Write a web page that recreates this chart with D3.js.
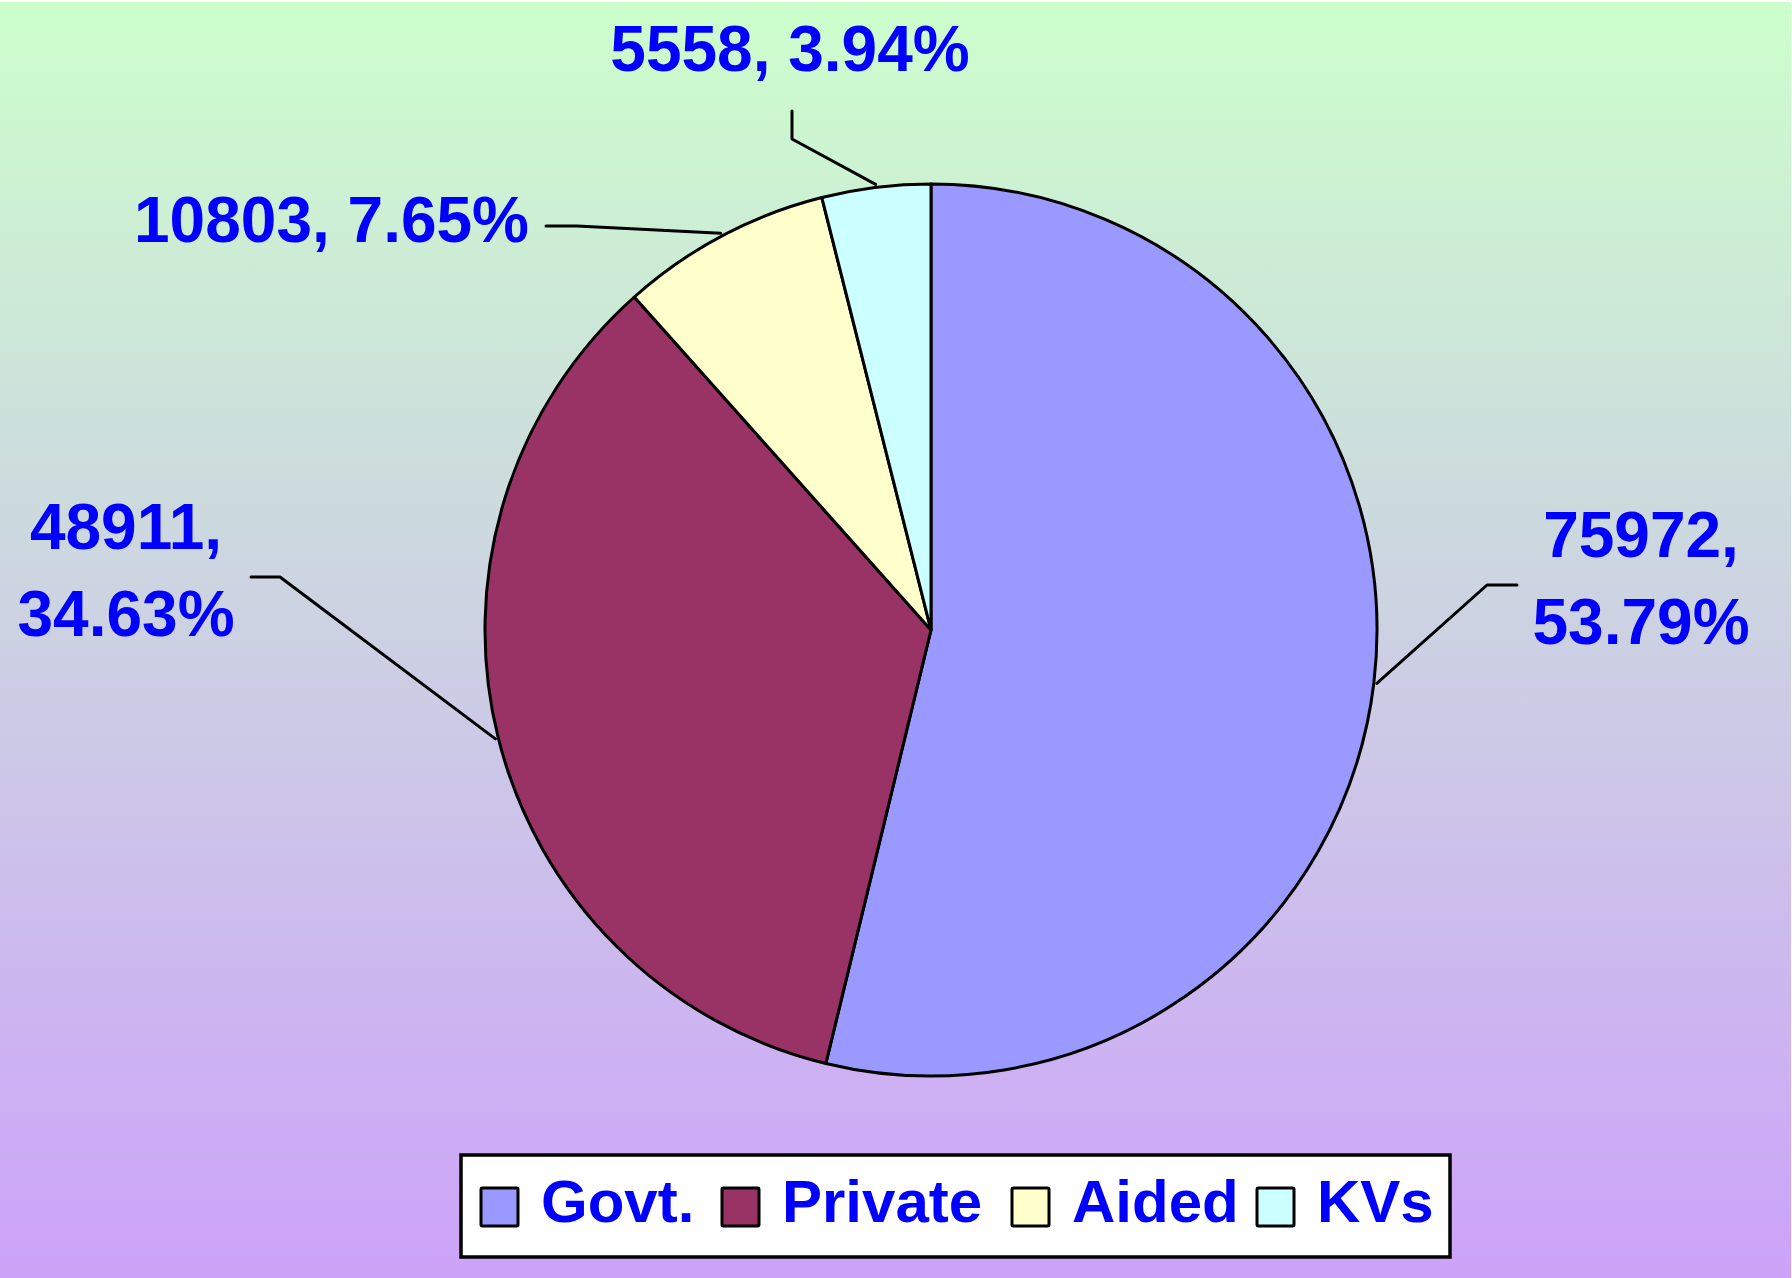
<!DOCTYPE html>
<html>
<head>
<meta charset="utf-8">
<script src="https://cdn.jsdelivr.net/npm/d3@7"></script>
<style>
  html, body { margin: 0; padding: 0; background: #ffffff; }
  svg { display: block; }
</style>
</head>
<body>
<script>
// ---- data ----
const categories = ["Govt.", "Private", "Aided", "KVs"];
const values = [75972, 48911, 10803, 5558];
const percents = ["53.79%", "34.63%", "7.65%", "3.94%"];
const colors = ["#9999FF", "#993366", "#FFFFCC", "#CCFFFF"];

// ---- layout ----
const W = 1792, H = 1278;
const cx = 931, cy = 630, R = 446;
const labelFont = "'Liberation Sans', Arial, sans-serif";
const blue = "#0000FF";

const svg = d3.select("body").append("svg").attr("width", W).attr("height", H);

const defs = svg.append("defs");
const grad = defs.append("linearGradient").attr("id", "bg").attr("x1", 0).attr("y1", 0).attr("x2", 0).attr("y2", 1);
grad.append("stop").attr("offset", "0%").attr("stop-color", "#CCFFCC");
grad.append("stop").attr("offset", "100%").attr("stop-color", "#CCA2FA");

svg.append("rect").attr("width", W).attr("height", H).attr("fill", "#ffffff");
svg.append("rect").attr("x", 0).attr("y", 2).attr("width", W - 1).attr("height", H - 2).attr("fill", "url(#bg)");

const pie = d3.pie().sort(null).value(d => d.value);
const data = categories.map((c, i) => ({ cat: c, value: values[i], pct: percents[i], color: colors[i] }));
const arcs = pie(data);
const arc = d3.arc().innerRadius(0).outerRadius(R);

const g = svg.append("g").attr("transform", `translate(${cx},${cy})`);
g.selectAll("path.slice").data(arcs).enter().append("path")
  .attr("class", "slice")
  .attr("d", arc)
  .attr("fill", d => d.data.color)
  .attr("stroke", "#000")
  .attr("stroke-width", 3)
  .attr("stroke-linejoin", "round");

// label placement (layout, relative to page)
const labelLayout = [
  { lines: d => [d.value + ",", d.pct], x: 1641, y: 557, anchor: "middle", elbow: [[1487, 585], [1517, 585]] },
  { lines: d => [d.value + ",", d.pct], x: 126, y: 549, anchor: "middle", elbow: [[280, 577], [251, 577]] },
  { lines: d => [d.value + ", " + d.pct], x: 529, y: 242, anchor: "end", elbow: [[577, 226], [546, 226]] },
  { lines: d => [d.value + ", " + d.pct], x: 790, y: 71, anchor: "middle", elbow: [[792, 139], [792, 111]] }
];

arcs.forEach((a, i) => {
  const L = labelLayout[i];
  const mid = (a.startAngle + a.endAngle) / 2;
  const r0 = R + 3;
  const sx = cx + r0 * Math.sin(mid), sy = cy - r0 * Math.cos(mid);
  const pts = [[sx, sy]].concat(L.elbow);
  svg.append("path")
    .attr("d", d3.line()(pts))
    .attr("fill", "none").attr("stroke", "#000").attr("stroke-width", 3)
    .attr("stroke-linejoin", "round").attr("stroke-linecap", "round");
  const t = svg.append("text")
    .attr("x", L.x).attr("y", L.y)
    .attr("text-anchor", L.anchor)
    .attr("font-family", labelFont).attr("font-weight", "bold").attr("font-size", 64)
    .attr("fill", blue);
  L.lines(a.data).forEach((ln, k) => {
    t.append("tspan").attr("x", L.x).attr("y", L.y + k * 87).text(ln);
  });
});

// ---- legend ----
const lg = svg.append("g");
lg.append("rect").attr("x", 461).attr("y", 1155).attr("width", 989).attr("height", 102)
  .attr("fill", "#ffffff").attr("stroke", "#000").attr("stroke-width", 3.5);
const swatchX = [481, 722, 1012, 1257];
const sw = 37;
data.forEach((d, i) => {
  const lx = swatchX[i];
  lg.append("rect").attr("x", lx).attr("y", 1188).attr("width", sw).attr("height", 38)
    .attr("fill", d.color).attr("stroke", "#000").attr("stroke-width", 3).attr("rx", 1.5);
  lg.append("text").attr("x", lx + sw + 23).attr("y", 1222)
    .attr("font-family", labelFont).attr("font-weight", "bold").attr("font-size", 60)
    .attr("fill", blue).text(d.cat);
});
</script>
</body>
</html>
